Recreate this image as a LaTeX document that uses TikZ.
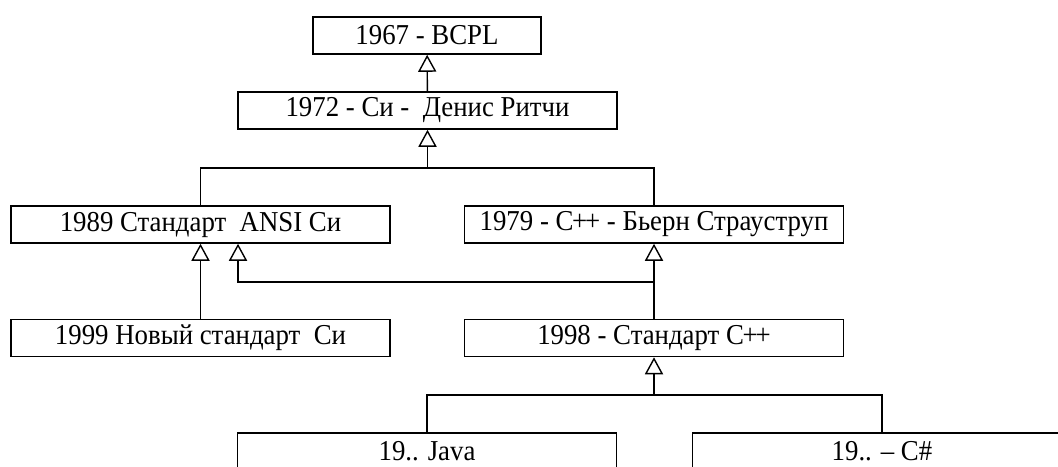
\documentclass[tikz,border=0pt]{standalone}
\usepackage{fontspec}
\setmainfont{Liberation Serif}[FakeStretch=0.93]
\usetikzlibrary{arrows.meta}

\newcommand{\cpluses}{C\kern-0.6pt+\kern-0.9pt+}

\begin{document}
\begin{tikzpicture}[x=0.43pt, y=-0.43pt,
    box/.style={draw, line width=0.6pt, minimum width=163pt, minimum height=16pt,
        inner sep=0pt, font=\fontsize{12.4}{14}\selectfont},
    inh/.style={line width=0.6pt, -{Triangle[open, length=7.3pt, width=7.8pt]}},
    link/.style={line width=0.6pt}]
    \clip (0,0) rectangle (1058,466);
    \node[box, minimum width=98pt] (bcpl) at (427,35.5) {1967 - BCPL};
    \node[box] (si72) at (427.5,110.5) {1972 - Си -\ \ Денис Ритчи};
    \node[box] (ansi) at (200.5,224.5) {1989 Стандарт\ \ ANSI Си};
    \node[box] (cpp79) at (654,224.5) {1979 - \cpluses{} - Бьерн Страуструп};
    \node[box] (si99) at (200.5,338) {1999 Новый стандарт\ \ Си};
    \node[box] (cpp98) at (654,338) {1998 - Стандарт \cpluses};
    \node[box] (java) at (427,451.5) {19.. Java};
    \node[box] (csharp) at (882,451.5) {19.. -- C\#};
    \coordinate (top) at (427.5,168);
    \coordinate (mid) at (654,282);
    \coordinate (low) at (654,395);
    \draw[inh] (si72) -- (bcpl);
    \draw[link] (ansi.north) |- (top) -| (cpp79.north);
    \draw[inh] (top) -- (si72.south);
    \draw[inh] (si99) -- (ansi);
    \draw[inh] (cpp98) -- (cpp79);
    \draw[inh] (mid) -| (ansi.south -| 238,0);
    \draw[link] (java.north) |- (low) -| (csharp.north);
    \draw[inh] (low) -- (cpp98.south);
\end{tikzpicture}
\end{document}
